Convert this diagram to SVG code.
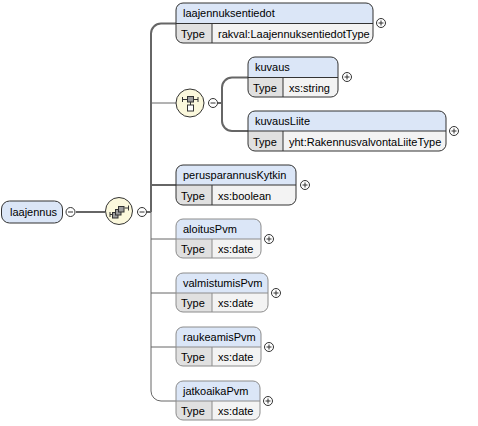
<svg xmlns="http://www.w3.org/2000/svg" width="478" height="426" viewBox="0 0 478 426">
<style>
text{font-family:"Liberation Sans",Arial,sans-serif;font-size:11px;fill:#000}
.bg{fill:#f3f3f3}
.hd{fill:#dbe6f7}
.tc{fill:#e0e0e0}
.ol{fill:none;stroke:#333;stroke-width:1}
.olo{fill:none;stroke:#8c8c8c;stroke-width:1}
.dv{fill:none;stroke:#333;stroke-width:1}
.dvo{fill:none;stroke:#8c8c8c;stroke-width:1}
.pm{fill:#fff;stroke:#333;stroke-width:1}
.sg{fill:none;stroke:#333;stroke-width:1}
.cn{fill:none;stroke:#666;stroke-width:1}
.ck{fill:none;stroke:#666;stroke-width:2}
.ic{fill:#fbf8dc;stroke:#333;stroke-width:1}
.sq{fill:#9c9c9c;stroke:#333;stroke-width:1}
.sw{fill:#fff;stroke:#333;stroke-width:1}
</style>
<defs>
<g id="plus"><circle r="4.5" class="pm"/><path d="M-2.5,0H2.5M0,-2.5V2.5" class="sg"/></g>
<g id="minus"><circle r="4.5" class="pm"/><path d="M-2.5,0H2.5" class="sg"/></g>
</defs>

<g id="connectors">
<path class="ck" d="M76,212H105"/>
<path class="ck" d="M147,212H151"/>
<path class="ck" d="M176,23.5H161A10,10 0 0 0 151,33.5V212"/>
<path class="cn" d="M151,212V391A10,10 0 0 0 161,401H176"/>
<path class="cn" d="M151,103H176"/>
<path class="ck" d="M151,185H176"/>
<path class="cn" d="M151,239H176"/>
<path class="cn" d="M151,293H176"/>
<path class="cn" d="M151,347H176"/>
<path class="ck" d="M218,103H222"/>
<path class="ck" d="M248,77.5H232A10,10 0 0 0 222,87.5V121A10,10 0 0 0 232,131H248"/>
</g>

<g id="laajennus">
<rect x="1.5" y="201" width="61" height="22" rx="8" fill="#dbe6f7" stroke="#333"/>
<text x="10" y="216">laajennus</text>
<use href="#minus" x="70.5" y="212"/>
</g>

<g id="sequence">
<circle cx="119" cy="211" r="13.5" class="ic"/>
<path class="sg" d="M110,212V217M110,214.5H113M124.5,208H128.5M128.5,205.5V210.5"/>
<rect x="112.5" y="212.5" width="5.5" height="5.5" class="sq"/>
<rect x="115.5" y="209.5" width="5.5" height="5.5" class="sq"/>
<rect x="118.5" y="206.5" width="5.5" height="5.5" class="sq"/>
<use href="#minus" x="142" y="212"/>
</g>

<g id="choice">
<circle cx="190" cy="103" r="14" class="ic"/>
<path class="sg" d="M182.5,99.5H198M182.5,97V102M198,97V102M190.5,102V105"/>
<rect x="187.5" y="96.5" width="6" height="5.5" class="sq"/>
<rect x="187.5" y="105" width="6" height="6" class="sw"/>
<use href="#minus" x="213" y="103"/>
</g>

<g id="laajennuksentiedot">
<rect x="176" y="3" width="197" height="40" rx="7" class="bg"/>
<path class="hd" d="M176,23.5V10A7,7 0 0 1 183,3H366A7,7 0 0 1 373,10V23.5Z"/>
<path class="tc" d="M176,23.5H212V43H183A7,7 0 0 1 176,36Z"/>
<path class="dv" d="M176,23.5H373M212,23.5V43"/>
<rect x="176" y="3" width="197" height="40" rx="7" class="ol"/>
<text x="183" y="17">laajennuksentiedot</text>
<text x="181" y="38">Type</text>
<text x="218" y="38">rakval:LaajennuksentiedotType</text>
<use href="#plus" x="381" y="23"/>
</g>

<g id="kuvaus">
<rect x="248" y="57" width="90" height="40" rx="7" class="bg"/>
<path class="hd" d="M248,77.5V64A7,7 0 0 1 255,57H331A7,7 0 0 1 338,64V77.5Z"/>
<path class="tc" d="M248,77.5H283V97H255A7,7 0 0 1 248,90Z"/>
<path class="dv" d="M248,77.5H338M283,77.5V97"/>
<rect x="248" y="57" width="90" height="40" rx="7" class="ol"/>
<text x="255" y="71">kuvaus</text>
<text x="253" y="92">Type</text>
<text x="289" y="92">xs:string</text>
<use href="#plus" x="347" y="77"/>
</g>

<g id="kuvausLiite">
<rect x="248" y="111" width="198" height="40" rx="7" class="bg"/>
<path class="hd" d="M248,131V118A7,7 0 0 1 255,111H439A7,7 0 0 1 446,118V131Z"/>
<path class="tc" d="M248,131H283V151H255A7,7 0 0 1 248,144Z"/>
<path class="dv" d="M248,131H446M283,131V151"/>
<rect x="248" y="111" width="198" height="40" rx="7" class="ol"/>
<text x="255" y="125">kuvausLiite</text>
<text x="253" y="146">Type</text>
<text x="289" y="146">yht:RakennusvalvontaLiiteType</text>
<use href="#plus" x="454" y="131"/>
</g>

<g id="perusparannusKytkin">
<rect x="176" y="165" width="120" height="40" rx="7" class="bg"/>
<path class="hd" d="M176,185V172A7,7 0 0 1 183,165H289A7,7 0 0 1 296,172V185Z"/>
<path class="tc" d="M176,185H212V205H183A7,7 0 0 1 176,198Z"/>
<path class="dv" d="M176,185H296M212,185V205"/>
<rect x="176" y="165" width="120" height="40" rx="7" class="ol"/>
<text x="183" y="179">perusparannusKytkin</text>
<text x="181" y="200">Type</text>
<text x="218" y="200">xs:boolean</text>
<use href="#plus" x="305" y="185"/>
</g>

<g id="aloitusPvm">
<rect x="176" y="219" width="85" height="39" rx="7" class="bg"/>
<path class="hd" d="M176,239V226A7,7 0 0 1 183,219H254A7,7 0 0 1 261,226V239Z"/>
<path class="tc" d="M176,239H212V258H183A7,7 0 0 1 176,251Z"/>
<path class="dvo" d="M176,239H261M212,239V258"/>
<rect x="176" y="219" width="85" height="39" rx="7" class="olo"/>
<text x="183" y="233">aloitusPvm</text>
<text x="181" y="253">Type</text>
<text x="218" y="253">xs:date</text>
<use href="#plus" x="269" y="239"/>
</g>

<g id="valmistumisPvm">
<rect x="176" y="273" width="92" height="39" rx="7" class="bg"/>
<path class="hd" d="M176,293V280A7,7 0 0 1 183,273H261A7,7 0 0 1 268,280V293Z"/>
<path class="tc" d="M176,293H212V312H183A7,7 0 0 1 176,305Z"/>
<path class="dvo" d="M176,293H268M212,293V312"/>
<rect x="176" y="273" width="92" height="39" rx="7" class="olo"/>
<text x="183" y="287">valmistumisPvm</text>
<text x="181" y="307">Type</text>
<text x="218" y="307">xs:date</text>
<use href="#plus" x="276" y="293"/>
</g>

<g id="raukeamisPvm">
<rect x="176" y="327" width="85" height="39" rx="7" class="bg"/>
<path class="hd" d="M176,347V334A7,7 0 0 1 183,327H254A7,7 0 0 1 261,334V347Z"/>
<path class="tc" d="M176,347H212V366H183A7,7 0 0 1 176,359Z"/>
<path class="dvo" d="M176,347H261M212,347V366"/>
<rect x="176" y="327" width="85" height="39" rx="7" class="olo"/>
<text x="183" y="341">raukeamisPvm</text>
<text x="181" y="361">Type</text>
<text x="218" y="361">xs:date</text>
<use href="#plus" x="269" y="347"/>
</g>

<g id="jatkoaikaPvm">
<rect x="176" y="381" width="84" height="39" rx="7" class="bg"/>
<path class="hd" d="M176,401V388A7,7 0 0 1 183,381H253A7,7 0 0 1 260,388V401Z"/>
<path class="tc" d="M176,401H212V420H183A7,7 0 0 1 176,413Z"/>
<path class="dvo" d="M176,401H260M212,401V420"/>
<rect x="176" y="381" width="84" height="39" rx="7" class="olo"/>
<text x="183" y="395">jatkoaikaPvm</text>
<text x="181" y="415">Type</text>
<text x="218" y="415">xs:date</text>
<use href="#plus" x="268" y="401"/>
</g>
</svg>
